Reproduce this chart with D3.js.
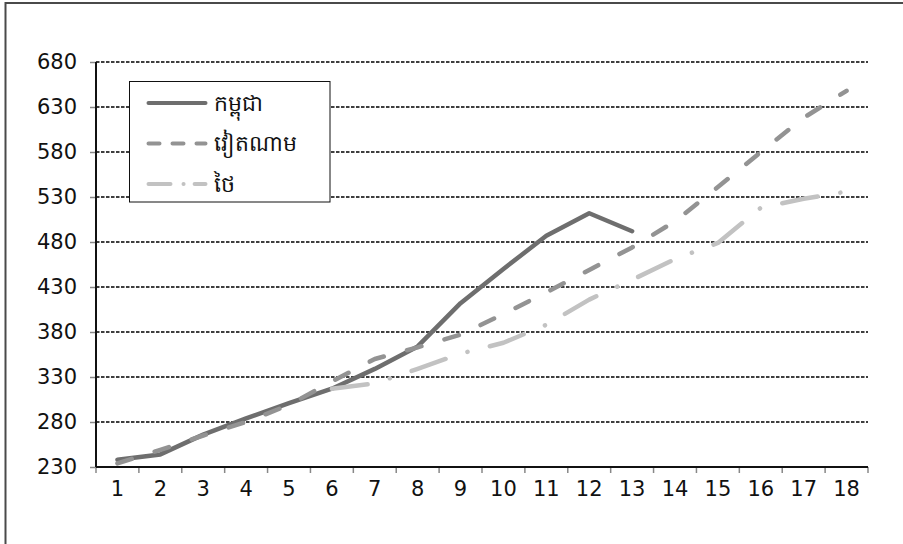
<!DOCTYPE html>
<html>
<head>
<meta charset="utf-8">
<script src="https://cdn.jsdelivr.net/npm/d3@7"></script>
<style>
  body { margin: 0; background: #fff; }
  text { font-family: "DejaVu Sans", sans-serif; fill: #111; }
</style>
</head>
<body>
<svg id="chart" width="903" height="544"></svg>
<script>
// x categories
var periods = [1, 2, 3, 4, 5, 6, 7, 8, 9, 10, 11, 12, 13, 14, 15, 16, 17, 18];
var yTicks = [230, 280, 330, 380, 430, 480, 530, 580, 630, 680];

// series names (legend order)
var seriesNames = ["កម្ពុជា", "វៀតណាម", "ថៃ"];

// values (null = no point)
var cambodia = [238, 244, 266, 284, 301, 317, 339, 364, 412, 450, 487, 512, 492, null, null, null, null, null];
var vietnam  = [234, 249, 265, 280, 299, 325, 350, 363, 377, 400, 424, 449, 474, 503, 541, 580, 618, 648];
var thai     = [null, null, null, null, null, 317, 323, 339, 356, 368, 388, 416, 438, 461, 479, 518, 528, 536];

var svg = d3.select("#chart"),
    margin = {top: 62, right: 35, bottom: 77, left: 96},
    width = +svg.attr("width") - margin.left - margin.right,
    height = +svg.attr("height") - margin.top - margin.bottom;

// outer frame (runs past the right/bottom edge)
svg.append("rect")
    .attr("x", 5.5)
    .attr("y", 3)
    .attr("width", 930)
    .attr("height", 580)
    .attr("fill", "none")
    .attr("stroke", "#4a4a4a")
    .attr("stroke-width", 2);

var g = svg.append("g").attr("transform", "translate(" + margin.left + "," + margin.top + ")");

var x = d3.scaleBand()
    .domain(periods)
    .range([0, width])
    .padding(0);

var y = d3.scaleLinear()
    .domain([230, 680])
    .range([height, 0]);

// gridlines
g.selectAll(".grid")
  .data(yTicks.slice(1))
  .enter().append("line")
    .attr("class", "grid")
    .attr("x1", 0)
    .attr("x2", width)
    .attr("y1", function(d) { return y(d); })
    .attr("y2", function(d) { return y(d); })
    .attr("stroke", "#000")
    .attr("stroke-width", 1.5)
    .attr("stroke-dasharray", "3.5,1.5");

// y axis
var yAxis = g.append("g")
    .call(d3.axisLeft(y).tickValues(yTicks).tickSize(6).tickPadding(13));
yAxis.select(".domain").remove();
yAxis.selectAll(".tick line").attr("stroke", "#888").attr("stroke-width", 1.5);
yAxis.selectAll(".tick text").style("font-size", "21px").attr("fill", "#111");

// x axis ticks on band edges
var xAxis = g.append("g")
    .attr("transform", "translate(0," + height + ")")
    .call(d3.axisBottom(x).tickSize(0).tickPadding(14));
xAxis.select(".domain").remove();
xAxis.selectAll(".tick text").style("font-size", "21px").attr("fill", "#111");

g.append("g")
  .selectAll("line")
  .data(periods.concat([null]))
  .enter().append("line")
    .attr("x1", function(d, i) { return i * x.step(); })
    .attr("x2", function(d, i) { return i * x.step(); })
    .attr("y1", height)
    .attr("y2", height + 6)
    .attr("stroke", "#888")
    .attr("stroke-width", 1.5);

// axis lines
g.append("line")
    .attr("x1", 0).attr("x2", width)
    .attr("y1", height).attr("y2", height)
    .attr("stroke", "#111").attr("stroke-width", 2);
g.append("line")
    .attr("x1", 0).attr("x2", 0)
    .attr("y1", 0).attr("y2", height)
    .attr("stroke", "#111").attr("stroke-width", 2);

var series = [
  {name: seriesNames[0], values: cambodia, color: "#6e6e6e", dash: null, legendDash: null},
  {name: seriesNames[1], values: vietnam, color: "#939393", dash: "15,24", legendDash: "11,13"},
  {name: seriesNames[2], values: thai, color: "#c2c2c2", dash: "36,23,0.1,23", legendDash: "22,13,0.1,11"}
];

var line = d3.line()
    .defined(function(d) { return d != null; })
    .x(function(d, i) { return x(periods[i]) + x.bandwidth() / 2; })
    .y(function(d) { return y(d); });

g.selectAll(".serie")
  .data(series)
  .enter().append("path")
    .attr("class", "serie")
    .attr("d", function(d) { return line(d.values); })
    .attr("fill", "none")
    .attr("stroke", function(d) { return d.color; })
    .attr("stroke-width", 4.5)
    .attr("stroke-linecap", "round")
    .attr("stroke-linejoin", "round")
    .attr("stroke-dasharray", function(d) { return d.dash; });

// legend
var legendBox = svg.append("g").attr("transform", "translate(129.5,81.5)");
legendBox.append("rect")
    .attr("width", 200.5)
    .attr("height", 120.5)
    .attr("fill", "#fff")
    .attr("stroke", "#111")
    .attr("stroke-width", 1);

var legend = legendBox.selectAll(".legend")
  .data(series)
  .enter().append("g")
    .attr("class", "legend")
    .attr("transform", function(d, i) { return "translate(0," + (21.5 + i * 40.5) + ")"; });

legend.append("line")
    .attr("x1", 19)
    .attr("x2", 76)
    .attr("stroke", function(d) { return d.color; })
    .attr("stroke-width", 4)
    .attr("stroke-linecap", "round")
    .attr("stroke-dasharray", function(d) { return d.legendDash; });

legend.append("text")
    .attr("x", 84)
    .attr("dy", "0.35em")
    .style("font-size", "22px")
    .text(function(d) { return d.name; });
</script>
</body>
</html>
